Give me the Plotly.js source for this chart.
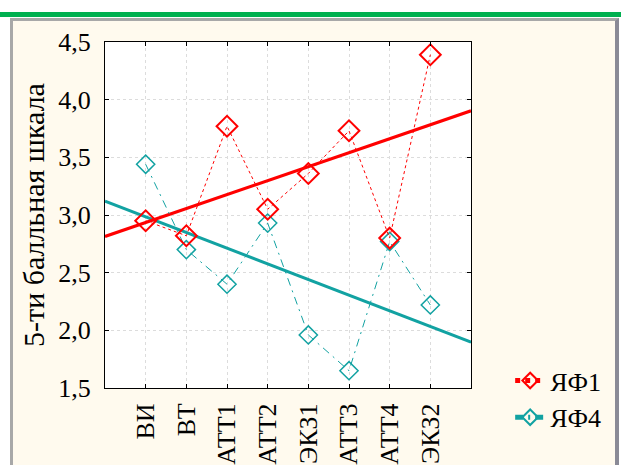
<!DOCTYPE html>
<html>
<head>
<meta charset="utf-8">
<script src="https://cdn.plot.ly/plotly-3.0.1.min.js"></script>
<style>
  html, body { margin: 0; padding: 0; background: #ffffff; }
  #wrap { position: relative; width: 621px; height: 465px; overflow: hidden; }
  #green { position: absolute; left: 0; top: 12px; width: 621px; height: 5px; background: #00b050; }
  #panel { position: absolute; left: 10px; top: 18px; width: 602px; height: 460px;
           background: #fffaee; border-left: 3px solid #a8a8a8; border-top: 3px solid #a8a8a8;
           border-right: 4px solid #8a8a96; }
  #chart { position: absolute; left: 0; top: 0; width: 621px; height: 465px; }
</style>
</head>
<body>
<div id="wrap">
  <div id="green"></div>
  <div id="panel"></div>
  <div id="chart"></div>
</div>
<script>
const categories = ["ВИ", "ВТ", "АТТ1", "АТТ2", "ЭКЗ1", "АТТ3", "АТТ4", "ЭКЗ2"];
const yaf1 = [2.95, 2.82, 3.77, 3.05, 3.36, 3.73, 2.80, 4.39];
const yaf4 = [3.44, 2.70, 2.40, 2.93, 1.96, 1.65, 2.77, 2.22];
const seriesNames = ["ЯФ1", "ЯФ4"];
const yTicks = [1.5, 2.0, 2.5, 3.0, 3.5, 4.0, 4.5];

const xs = categories.map((c, i) => i);
const xRange = [-1, categories.length];

function linfit(x, y) {
  const n = x.length;
  const mx = x.reduce((a, b) => a + b, 0) / n;
  const my = y.reduce((a, b) => a + b, 0) / n;
  let sxy = 0, sxx = 0;
  for (let i = 0; i < n; i++) { sxy += (x[i] - mx) * (y[i] - my); sxx += (x[i] - mx) ** 2; }
  const b = sxy / sxx;
  const a = my - b * mx;
  return xRange.map(v => a + b * v);
}

const red = "#ff0000";
const teal = "#12a2a2";
const serif = "Liberation Serif";

const traces = [
  { x: xRange, y: linfit(xs, yaf4), mode: "lines", line: { color: teal, width: 3 },
    showlegend: false, hoverinfo: "skip" },
  { x: xRange, y: linfit(xs, yaf1), mode: "lines", line: { color: red, width: 3 },
    showlegend: false, hoverinfo: "skip" },
  { x: xs, y: yaf4, name: seriesNames[1], mode: "lines+markers",
    line: { color: teal, width: 1, dash: "8px,5px,2px,5px" },
    marker: { symbol: "diamond-open", size: 14, color: teal, line: { color: teal, width: 1.5 } } },
  { x: xs, y: yaf1, name: seriesNames[0], mode: "lines+markers",
    line: { color: red, width: 1, dash: "dot" },
    marker: { symbol: "diamond-open", size: 16, color: red, line: { color: red, width: 2 } } }
];

const layout = {
  width: 621, height: 465,
  margin: { l: 105, r: 150, t: 42, b: 77, pad: 0 },
  paper_bgcolor: "rgba(0,0,0,0)",
  plot_bgcolor: "#ffffff",
  separators: ", ",
  font: { family: serif, color: "#000000", size: 26 },
  showlegend: true,
  legend: { x: 1.107, xanchor: "left", y: -0.032, yanchor: "middle", traceorder: "reversed",
            bgcolor: "rgba(0,0,0,0)", font: { family: serif, size: 26, color: "#000" },
            itemsizing: "constant", tracegroupgap: 0 },
  xaxis: {
    range: xRange, tickmode: "array", tickvals: xs, ticktext: categories, tickangle: -90,
    ticks: "inside", ticklen: 4, tickcolor: "#000", mirror: "ticks",
    showline: true, linecolor: "#000", linewidth: 1,
    showgrid: true, gridcolor: "#dcdcdc", griddash: "dot", gridwidth: 1,
    zeroline: false, tickfont: { family: serif, size: 26, color: "#000" }, ticklabelstandoff: 4
  },
  yaxis: {
    range: [1.5, 4.5], tickmode: "array", tickvals: yTicks, tickformat: ".1f",
    ticks: "inside", ticklen: 4, tickcolor: "#000", mirror: "ticks",
    showline: true, linecolor: "#000", linewidth: 1,
    showgrid: true, gridcolor: "#dcdcdc", griddash: "dot", gridwidth: 1,
    zeroline: false, tickfont: { family: serif, size: 26, color: "#000" }, ticklabelstandoff: 8,
    title: { text: "5-ти балльная шкала", font: { family: serif, size: 30, color: "#000" }, standoff: 4 }
  }
};

Plotly.newPlot("chart", traces, layout, { displayModeBar: false, staticPlot: true });
</script>
</body>
</html>
